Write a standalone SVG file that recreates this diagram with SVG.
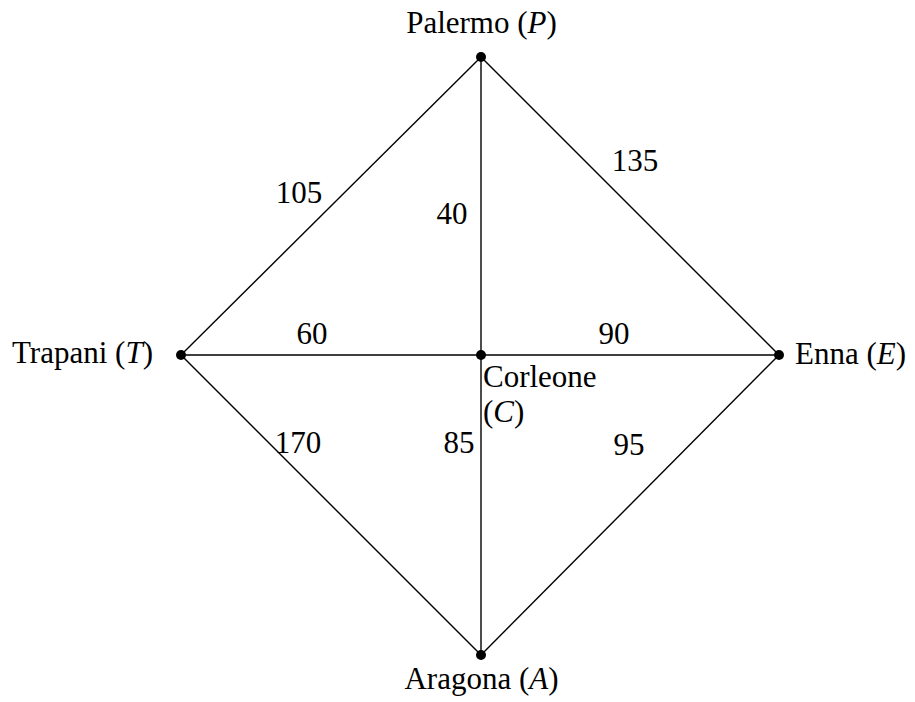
<svg xmlns="http://www.w3.org/2000/svg" width="915" height="702" viewBox="0 0 915 702">
<style>
text{font-family:"Liberation Serif","Times New Roman",serif;font-size:31px;fill:#000}
.e{stroke:#000;stroke-width:1.4;fill:none}
.d{fill:#000}
.m{text-anchor:middle}
</style>
<rect width="915" height="702" fill="#fff"/>
<g id="connectors">
<line class="e" x1="481" y1="57" x2="181" y2="355"/>
<line class="e" x1="481" y1="57" x2="779" y2="355"/>
<line class="e" x1="481" y1="57" x2="481" y2="655"/>
<line class="e" x1="181" y1="355" x2="779" y2="355"/>
<line class="e" x1="181" y1="355" x2="481" y2="655"/>
<line class="e" x1="779" y1="355" x2="481" y2="655"/>
<text class="m" x="299" y="203">105</text>
<text class="m" x="635" y="171">135</text>
<text class="m" x="452" y="224">40</text>
<text class="m" x="312" y="344">60</text>
<text class="m" x="614" y="344">90</text>
<text class="m" x="298" y="453">170</text>
<text class="m" x="459" y="453">85</text>
<text class="m" x="629" y="455">95</text>
</g>
<g id="P"><circle class="d" cx="481" cy="57" r="5"/><text class="m" x="481.5" y="33">Palermo (<tspan font-style="italic">P</tspan>)</text></g>
<g id="T"><circle class="d" cx="181" cy="355" r="5"/><text x="12" y="363">Trapani (<tspan font-style="italic">T</tspan>)</text></g>
<g id="C"><circle class="d" cx="481" cy="355" r="5"/><text x="483" y="387" font-size="30">Corleone</text><text x="483" y="422" font-size="30">(<tspan font-style="italic">C</tspan>)</text></g>
<g id="E"><circle class="d" cx="779" cy="355" r="5"/><text x="795" y="364">Enna (<tspan font-style="italic">E</tspan>)</text></g>
<g id="A"><circle class="d" cx="481" cy="655" r="5"/><text class="m" x="481.5" y="689">Aragona (<tspan font-style="italic">A</tspan>)</text></g>
</svg>
